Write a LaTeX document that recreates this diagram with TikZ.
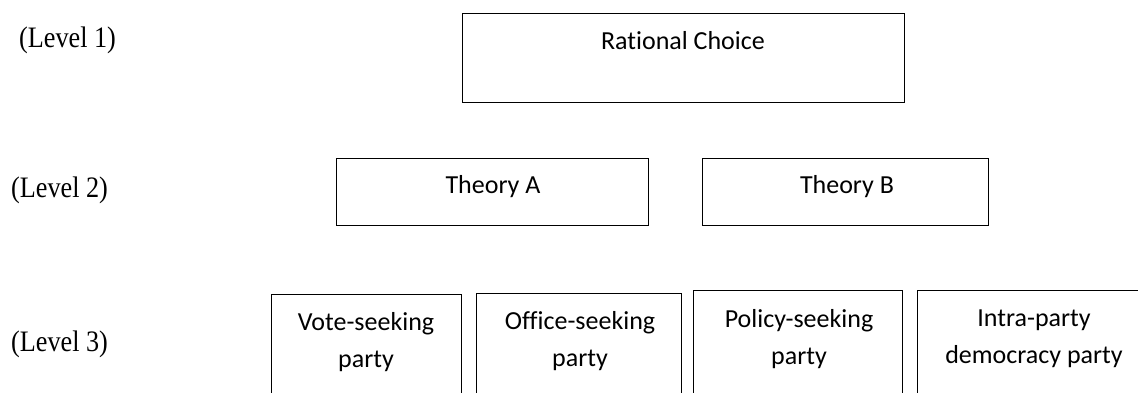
\documentclass[tikz,border=0pt]{standalone}
\usepackage{fontspec}
\usepackage{graphicx}
\setmainfont{Liberation Serif}
\newfontfamily\boxfont[Ligatures=CommonOff]{Carlito}
\begin{document}
\begin{tikzpicture}[x=1pt,y=-1pt,
  box/.style={draw=black,line width=1.2pt,inner sep=0pt,anchor=north west},
  boxtext/.style={font=\boxfont\fontsize{26}{37}\selectfont,align=center,anchor=base,inner sep=0pt},
  levellabel/.style={font=\fontsize{27}{30}\selectfont,anchor=base west,inner sep=0pt}]
\useasboundingbox (0,0) rectangle (1138,392);
\clip (0,0) rectangle (1138,392);
% Level 1
\node[box,minimum width=442pt,minimum height=89pt] (rc) at (462,13) {};
\node[boxtext] (rct) at (683,49) {Rational Choice};
% Level 2
\node[box,minimum width=312pt,minimum height=67pt] (ta) at (336,158) {};
\node[boxtext] (tat) at (493,193) {Theory A};
\node[box,minimum width=286pt,minimum height=67pt] (tb) at (702,158) {};
\node[boxtext] (tbt) at (847,193) {Theory B};
% Level 3 (anchor = baseline of the last line)
\node[box,minimum width=190pt,minimum height=110pt] (vs) at (271,294) {};
\node[boxtext] (vst) at (366,367) {Vote-seeking\\party};
\node[box,minimum width=205pt,minimum height=110pt] (os) at (476,292.5) {};
\node[boxtext] (ost) at (580,366) {Office-seeking\\party};
\node[box,minimum width=209pt,minimum height=110pt] (ps) at (693,290) {};
\node[boxtext] (pst) at (799,364) {Policy-seeking\\party};
\node[box,minimum width=234pt,minimum height=110pt] (ip) at (917,289.5) {};
\node[boxtext] (ipt) at (1034,363) {Intra-party\\democracy party};
% Level labels
\node[levellabel] (l1) at (19,47) {\scalebox{0.97}[1.1]{(Level 1)}};
\node[levellabel] (l2) at (11,197) {\scalebox{0.97}[1.1]{(Level 2)}};
\node[levellabel] (l3) at (11,351) {\scalebox{0.97}[1.1]{(Level 3)}};
\end{tikzpicture}
\end{document}
